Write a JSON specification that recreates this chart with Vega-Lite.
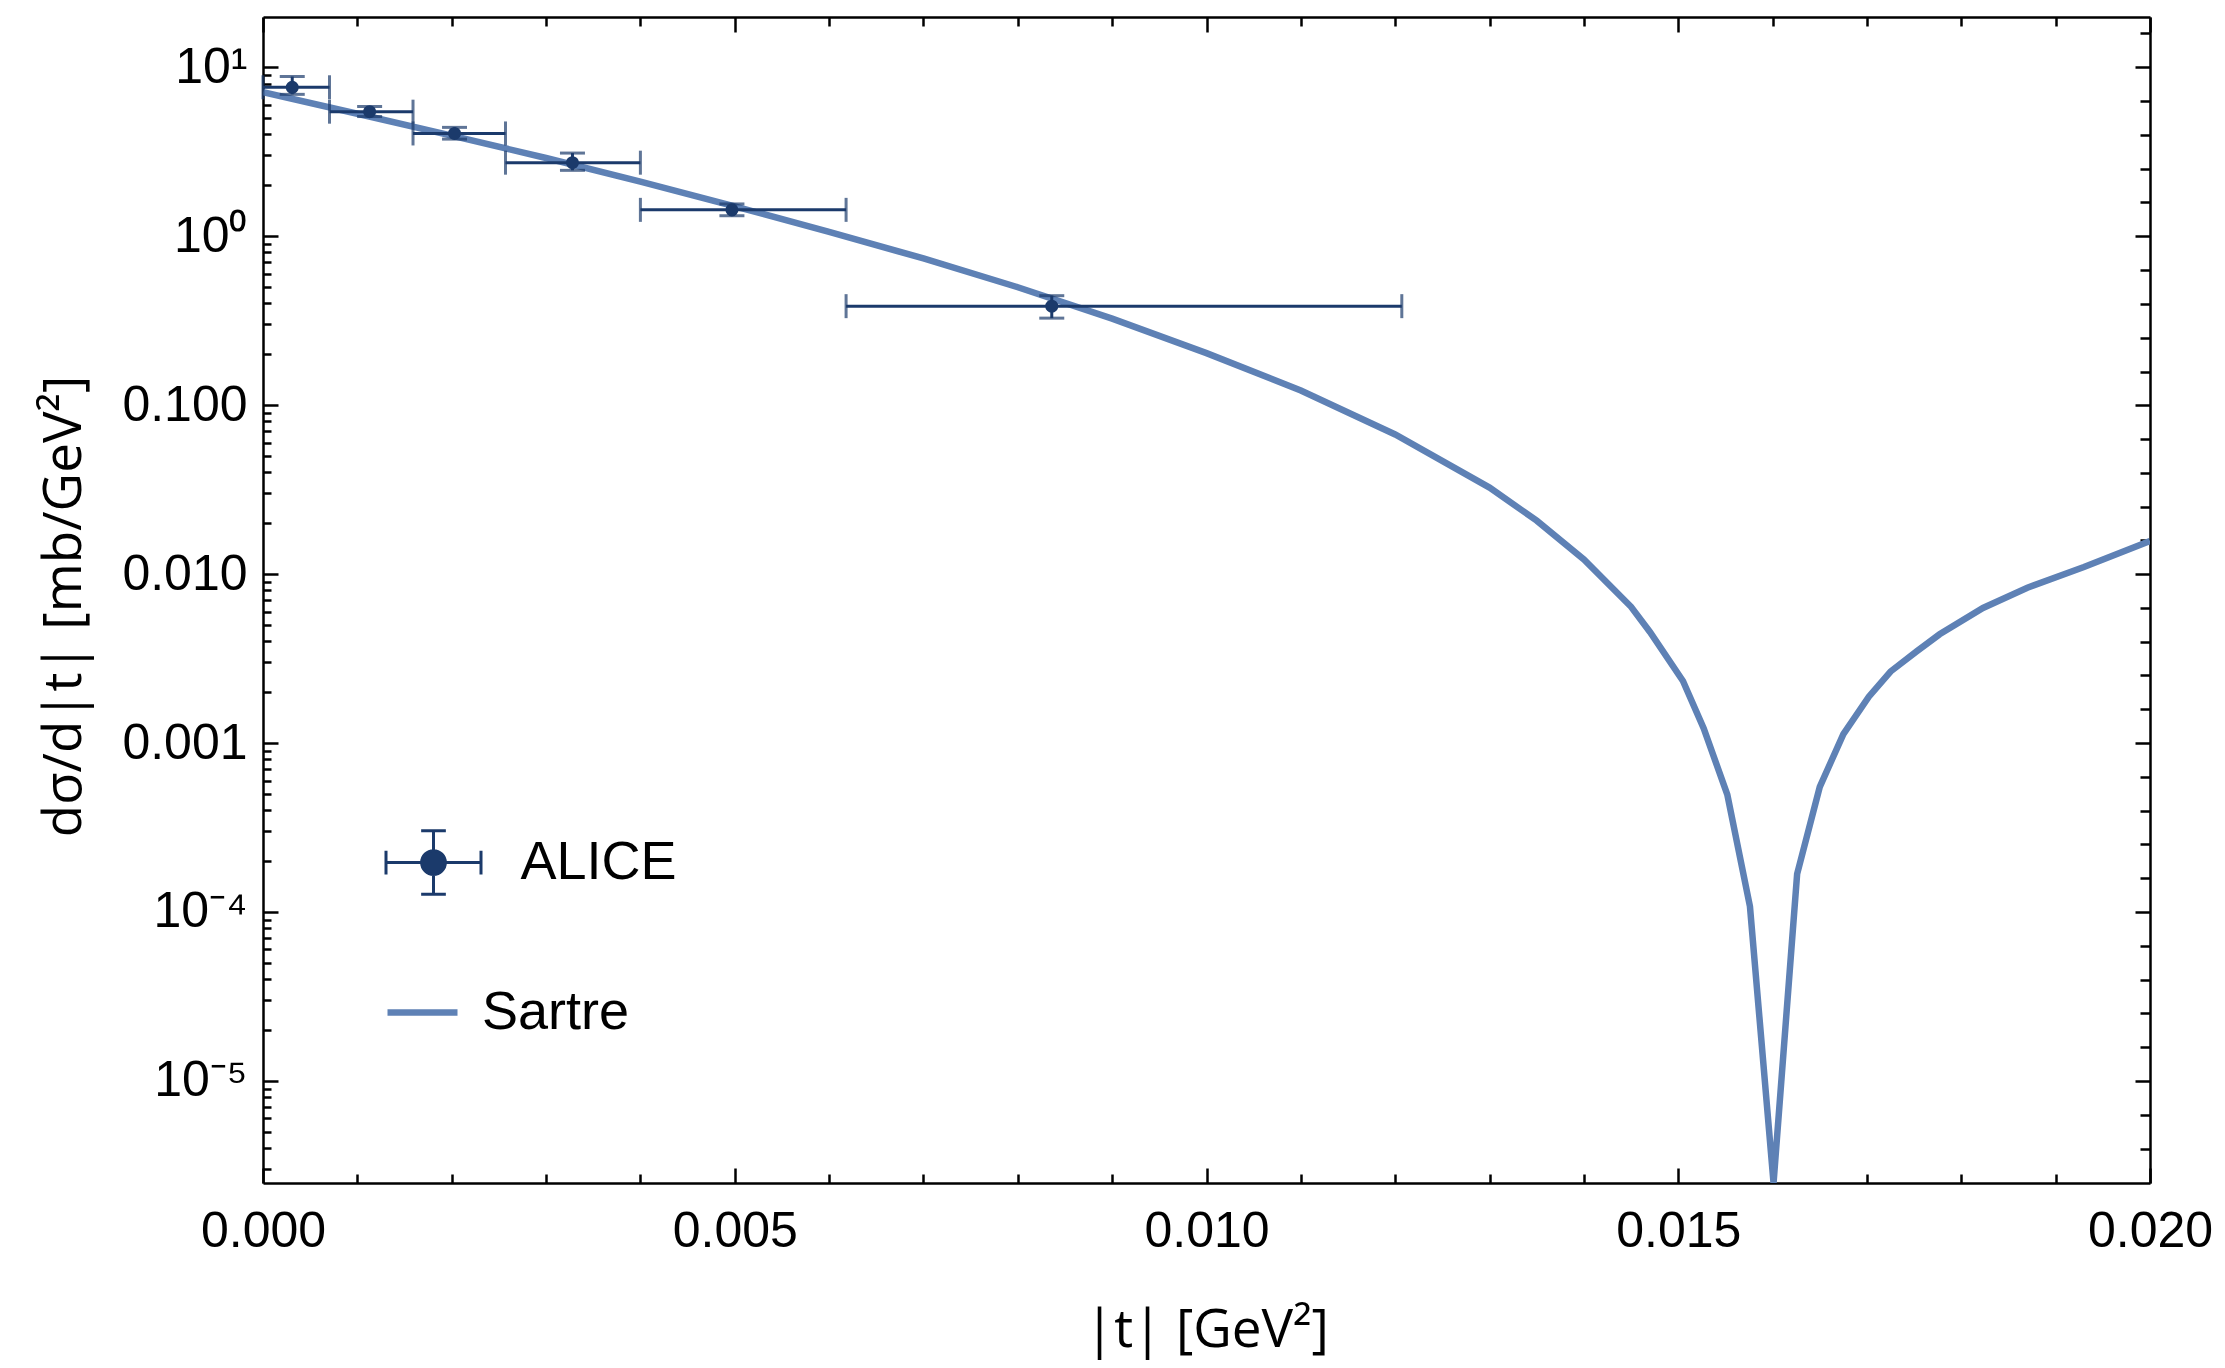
{
  "$schema": "https://vega.github.io/schema/vega-lite/v6.json",
  "width": 1887,
  "height": 1166,
  "autosize": {"type": "none"},
  "padding": {"left": 263, "top": 17, "right": 75, "bottom": 185},
  "background": "white",
  "config": {
    "view": {"stroke": null},
    "axis": {"grid": false, "labelFont": "Liberation Sans", "titleFont": "Open Sans", "labelColor": "black", "titleColor": "black", "tickColor": "black", "domainColor": "black"}
  },
  "datasets": {
    "alice": [
      {"t": 0.00031, "tlo": 0.0, "thi": 0.000705, "v": 7.6, "vlo": 6.9, "vhi": 8.8, "series": "ALICE"},
      {"t": 0.00113, "tlo": 0.000705, "thi": 0.00159, "v": 5.45, "vlo": 5.1, "vhi": 5.85, "series": "ALICE"},
      {"t": 0.00203, "tlo": 0.00159, "thi": 0.00257, "v": 4.05, "vlo": 3.75, "vhi": 4.4, "series": "ALICE"},
      {"t": 0.00328, "tlo": 0.00257, "thi": 0.0040, "v": 2.72, "vlo": 2.45, "vhi": 3.1, "series": "ALICE"},
      {"t": 0.00497, "tlo": 0.0040, "thi": 0.00618, "v": 1.43, "vlo": 1.32, "vhi": 1.55, "series": "ALICE"},
      {"t": 0.00836, "tlo": 0.00618, "thi": 0.01207, "v": 0.385, "vlo": 0.327, "vhi": 0.444, "series": "ALICE"}
    ],
    "sartre": [
      {"t": 0.0, "v": 7.1, "series": "Sartre"},
      {"t": 0.001, "v": 5.3, "series": "Sartre"},
      {"t": 0.002, "v": 3.93, "series": "Sartre"},
      {"t": 0.003, "v": 2.9, "series": "Sartre"},
      {"t": 0.004, "v": 2.1, "series": "Sartre"},
      {"t": 0.005, "v": 1.5, "series": "Sartre"},
      {"t": 0.006, "v": 1.06, "series": "Sartre"},
      {"t": 0.007, "v": 0.737, "series": "Sartre"},
      {"t": 0.008, "v": 0.498, "series": "Sartre"},
      {"t": 0.009, "v": 0.325, "series": "Sartre"},
      {"t": 0.010, "v": 0.203, "series": "Sartre"},
      {"t": 0.011, "v": 0.122, "series": "Sartre"},
      {"t": 0.012, "v": 0.067, "series": "Sartre"},
      {"t": 0.013, "v": 0.0325, "series": "Sartre"},
      {"t": 0.0135, "v": 0.0207, "series": "Sartre"},
      {"t": 0.014, "v": 0.0122, "series": "Sartre"},
      {"t": 0.0145, "v": 0.0064, "series": "Sartre"},
      {"t": 0.0147, "v": 0.00454, "series": "Sartre"},
      {"t": 0.01505, "v": 0.00233, "series": "Sartre"},
      {"t": 0.01527, "v": 0.00122, "series": "Sartre"},
      {"t": 0.01552, "v": 0.000495, "series": "Sartre"},
      {"t": 0.01576, "v": 0.000108, "series": "Sartre"},
      {"t": 0.01601, "v": 0.00000249, "series": "Sartre"},
      {"t": 0.01626, "v": 0.000168, "series": "Sartre"},
      {"t": 0.0165, "v": 0.00055, "series": "Sartre"},
      {"t": 0.01675, "v": 0.00113, "series": "Sartre"},
      {"t": 0.01702, "v": 0.00188, "series": "Sartre"},
      {"t": 0.01725, "v": 0.00265, "series": "Sartre"},
      {"t": 0.01753, "v": 0.0035, "series": "Sartre"},
      {"t": 0.01777, "v": 0.0044, "series": "Sartre"},
      {"t": 0.01823, "v": 0.0063, "series": "Sartre"},
      {"t": 0.0187, "v": 0.0083, "series": "Sartre"},
      {"t": 0.0193, "v": 0.011, "series": "Sartre"},
      {"t": 0.02, "v": 0.0157, "series": "Sartre"}
    ]
  },
  "layer": [
    {
      "data": {"name": "sartre"},
      "mark": {"type": "line", "strokeWidth": 6.5, "clip": true},
      "encoding": {
        "x": {"field": "t", "type": "quantitative",
          "scale": {"domain": [0, 0.02], "nice": false, "zero": false},
          "axis": {"orient": "bottom", "values": [0, 0.005, 0.01, 0.015, 0.02], "format": ".3f", "ticks": false, "domain": true, "domainWidth": 2.5,
            "labelFontSize": 50, "labelPadding": 23, "labelFlush": false, "labelOverlap": false,
            "title": "|t| [GeV²]", "titleFontSize": 53, "titleFontWeight": "normal", "titleX": 943.5, "titleY": 147, "titleBaseline": "middle"}},
        "y": {"field": "v", "type": "quantitative",
          "scale": {"type": "log", "domain": [0.00000249, 19.8], "nice": false},
          "axis": {"orient": "left", "values": [0.00001, 0.0001, 0.001, 0.01, 0.1, 1, 10], "ticks": false, "domain": true, "domainWidth": 2.5,
            "labelExpr": "['10⁻⁵','10⁻⁴','0.001','0.010','0.100','10⁰','10¹'][round(log(datum.value)/LN10)+5]",
            "labelFontSize": 50, "labelPadding": 16, "labelFlush": false, "labelOverlap": false,
            "title": "dσ/d|t| [mb/GeV²]", "titleFontSize": 53, "titleFontWeight": "normal", "titleX": -199, "titleY": 589, "titleAngle": 270, "titleBaseline": "middle"}},
        "color": {"field": "series", "type": "nominal",
          "scale": {"domain": ["Sartre"], "range": ["#5e81b5"]},
          "legend": {"orient": "none", "legendX": 121, "legendY": 957, "title": null, "padding": 0,
            "symbolType": "stroke", "symbolSize": 4900, "symbolStrokeWidth": 6.5,
            "labelFont": "Liberation Sans", "labelFontSize": 54, "labelColor": "black", "labelOffset": 21, "labelLimit": 0}}
      }
    },
    {
      "data": {"name": "alice"},
      "mark": {"type": "rule", "strokeWidth": 3, "color": "#1b3a6b"},
      "encoding": {
        "x": {"field": "tlo", "type": "quantitative",
          "scale": {"domain": [0, 0.02], "nice": false, "zero": false},
          "axis": {"orient": "bottom", "values": [0, 0.005, 0.01, 0.015, 0.02], "labels": false, "domain": false, "tickSize": -15, "tickWidth": 2.5, "title": null}},
        "x2": {"field": "thi"},
        "y": {"field": "v", "type": "quantitative",
          "scale": {"type": "log", "domain": [0.00000249, 19.8], "nice": false},
          "axis": {"orient": "left", "values": [0.00001, 0.0001, 0.001, 0.01, 0.1, 1, 10], "labels": false, "domain": false, "tickSize": -15, "tickWidth": 2.5, "title": null}}
      }
    },
    {
      "data": {"name": "alice"},
      "mark": {"type": "rule", "strokeWidth": 3, "color": "#1b3a6b"},
      "encoding": {
        "x": {"field": "t", "type": "quantitative",
          "scale": {"domain": [0, 0.02], "nice": false, "zero": false},
          "axis": {"orient": "bottom", "values": [0.001, 0.002, 0.003, 0.004, 0.006, 0.007, 0.008, 0.009, 0.011, 0.012, 0.013, 0.014, 0.016, 0.017, 0.018, 0.019], "labels": false, "domain": false, "tickSize": -9, "tickWidth": 2.5, "title": null}},
        "y": {"field": "vlo", "type": "quantitative",
          "scale": {"type": "log", "domain": [0.00000249, 19.8], "nice": false},
          "axis": {"orient": "left", "values": [0.000003, 0.000004, 0.000005, 0.000006, 0.000007, 0.000008, 0.000009, 0.00002, 0.00003, 0.00004, 0.00005, 0.00006, 0.00007, 0.00008, 0.00009, 0.0002, 0.0003, 0.0004, 0.0005, 0.0006, 0.0007, 0.0008, 0.0009, 0.002, 0.003, 0.004, 0.005, 0.006, 0.007, 0.008, 0.009, 0.02, 0.03, 0.04, 0.05, 0.06, 0.07, 0.08, 0.09, 0.2, 0.3, 0.4, 0.5, 0.6, 0.7, 0.8, 0.9, 2, 3, 4, 5, 6, 7, 8, 9], "labels": false, "domain": false, "tickSize": -8, "tickWidth": 2.5, "title": null}},
        "y2": {"field": "vhi"}
      }
    },
    {
      "data": {"name": "alice"},
      "transform": [{"fold": ["tlo", "thi"], "as": ["end", "xe"]}],
      "mark": {"type": "tick", "orient": "vertical", "size": 24, "thickness": 3, "color": "#1b3a6b"},
      "encoding": {
        "x": {"field": "xe", "type": "quantitative",
          "scale": {"domain": [0, 0.02], "nice": false, "zero": false},
          "axis": {"orient": "top", "values": [0, 0.005, 0.01, 0.015, 0.02], "labels": false, "domain": true, "domainWidth": 2.5, "tickSize": -15, "tickWidth": 2.5, "title": null}},
        "y": {"field": "v", "type": "quantitative",
          "scale": {"type": "log", "domain": [0.00000249, 19.8], "nice": false},
          "axis": {"orient": "right", "values": [0.00001, 0.0001, 0.001, 0.01, 0.1, 1, 10], "labels": false, "domain": true, "domainWidth": 2.5, "tickSize": -15, "tickWidth": 2.5, "title": null}}
      }
    },
    {
      "data": {"name": "alice"},
      "transform": [{"fold": ["vlo", "vhi"], "as": ["end", "ye"]}],
      "mark": {"type": "tick", "orient": "horizontal", "size": 25, "thickness": 3, "color": "#1b3a6b"},
      "encoding": {
        "x": {"field": "t", "type": "quantitative",
          "scale": {"domain": [0, 0.02], "nice": false, "zero": false},
          "axis": {"orient": "top", "values": [0.001, 0.002, 0.003, 0.004, 0.006, 0.007, 0.008, 0.009, 0.011, 0.012, 0.013, 0.014, 0.016, 0.017, 0.018, 0.019], "labels": false, "domain": false, "tickSize": -9, "tickWidth": 2.5, "title": null}},
        "y": {"field": "ye", "type": "quantitative",
          "scale": {"type": "log", "domain": [0.00000249, 19.8], "nice": false},
          "axis": {"orient": "right", "values": [0.00000398, 0.00000631, 0.0000158, 0.0000251, 0.0000398, 0.0000631, 0.000158, 0.000251, 0.000398, 0.000631, 0.00158, 0.00251, 0.00398, 0.00631, 0.0158, 0.0251, 0.0398, 0.0631, 0.158, 0.251, 0.398, 0.631, 1.585, 2.512, 3.981, 6.31, 15.85], "labels": false, "domain": false, "tickSize": -10, "tickWidth": 2.5, "title": null}}
      }
    },
    {
      "data": {"name": "alice"},
      "mark": {"type": "point", "filled": true, "size": 170, "opacity": 1},
      "encoding": {
        "x": {"field": "t", "type": "quantitative", "scale": {"domain": [0, 0.02], "nice": false, "zero": false}, "axis": null},
        "y": {"field": "v", "type": "quantitative", "scale": {"type": "log", "domain": [0.00000249, 19.8], "nice": false}, "axis": null},
        "color": {"field": "series", "type": "nominal",
          "scale": {"domain": ["ALICE"], "range": ["#1b3a6b"]},
          "legend": {"orient": "none", "legendX": 121.5, "legendY": 796.5, "title": null, "padding": 0,
            "symbolType": "M-1,0L1,0M-1,-0.25L-1,0.25M1,-0.25L1,0.25M0,-0.67L0,0.67M-0.26,-0.67L0.26,-0.67M-0.26,0.67L0.26,0.67M0.25,0A0.25,0.25,0,1,1,-0.25,0A0.25,0.25,0,1,1,0.25,0Z",
            "symbolSize": 9025, "symbolStrokeColor": "#1b3a6b", "symbolStrokeWidth": 3, "symbolOpacity": 1,
            "labelFont": "Liberation Sans", "labelFontSize": 54, "labelColor": "black", "labelOffset": 38, "labelLimit": 0}}
      }
    },
    {
      "mark": {"type": "text", "text": "W=125 GeV", "font": "Liberation Sans", "fontSize": 54, "color": "black", "align": "center", "baseline": "middle"},
      "encoding": {
        "x": {"datum": 0.017, "type": "quantitative", "axis": null},
        "y": {"datum": 3.8, "type": "quantitative", "axis": null}
      }
    }
  ],
  "resolve": {"scale": {"color": "independent"}, "axis": {"x": "independent", "y": "independent"}}
}
